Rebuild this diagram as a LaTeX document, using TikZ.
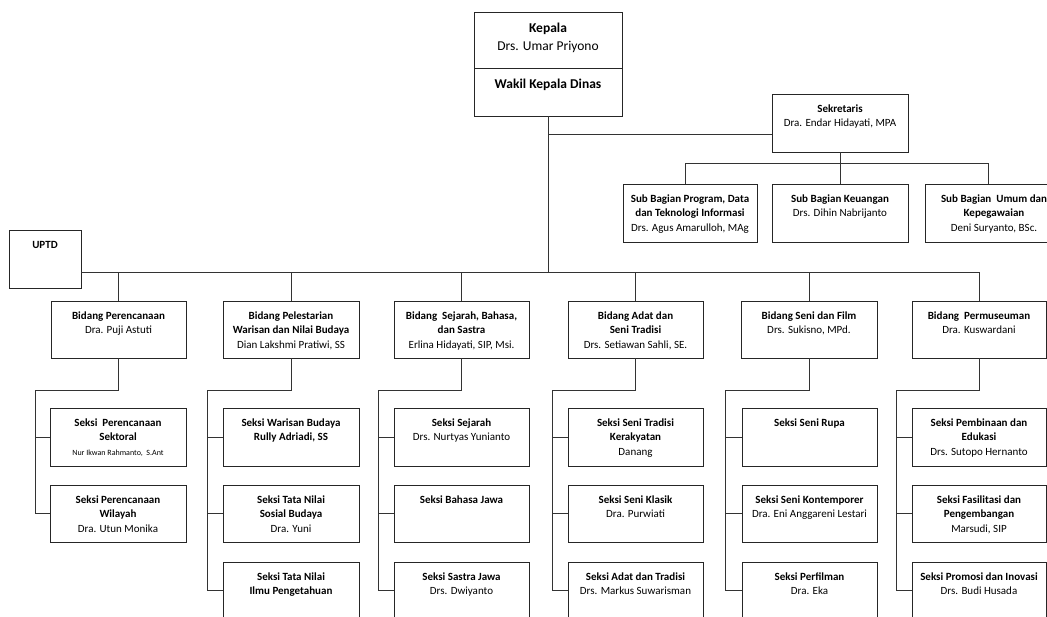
\documentclass[tikz,border=0pt]{standalone}
\usepackage{fontspec}
\setmainfont{Carlito}
\newcommand\bxt[3]{\parbox[c][#2pt][t]{#1pt}{\centering\fontsize{11}{14.5}\selectfont\rule{0pt}{18pt}#3\par}}
\newcommand\bigbxt[3]{\parbox[c][#2pt][t]{#1pt}{\centering\fontsize{13.5}{18}\selectfont\rule{0pt}{20pt}#3\par}}
\tikzset{
  box/.style={draw=black!85, line width=0.9pt, inner sep=0pt, outer sep=0pt, anchor=north west, fill=white},
  conn/.style={draw=black!80, line width=0.9pt}
}
\begin{document}
\begin{tikzpicture}[x=1pt,y=-1pt]
\useasboundingbox (0,0) rectangle (1047,616);
\clip (0,0) rectangle (1047,616);
% top
\node[box] (kepala) at (474,12) {\bigbxt{148}{56}{\textbf{Kepala}\\Drs. Umar Priyono}};
\node[box] (wakil) at (474,68) {\bigbxt{148}{48}{\textbf{Wakil Kepala Dinas}}};
\node[box] (sek) at (772,94) {\bxt{136}{58}{\textbf{Sekretaris}\\Dra. Endar Hidayati, MPA}};
\node[box] (sub1) at (623,184) {\bxt{134}{58}{\textbf{Sub Bagian Program, Data}\\\textbf{dan Teknologi Informasi}\\Drs. Agus Amarulloh, MAg}};
\node[box] (sub2) at (772,184) {\bxt{136}{58}{\textbf{Sub Bagian Keuangan}\\Drs. Dihin Nabrijanto}};
\node[box] (sub3) at (925,184) {\bxt{138}{58}{\textbf{Sub Bagian\ \ Umum dan}\\\textbf{Kepegawaian}\\Deni Suryanto, BSc.}};
\node[box] (uptd) at (9,230) {\bxt{72}{58}{\textbf{UPTD}}};
% bidang
\node[box] (b1) at (51,301) {\bxt{135}{57}{\textbf{Bidang Perencanaan}\\Dra. Puji Astuti}};
\node[box] (b2) at (223,301) {\bxt{136}{57}{\textbf{Bidang Pelestarian}\\\textbf{Warisan dan Nilai Budaya}\\Dian Lakshmi Pratiwi, SS}};
\node[box] (b3) at (394,301) {\bxt{135}{57}{\textbf{Bidang\ \ Sejarah, Bahasa,}\\\textbf{dan Sastra}\\Erlina Hidayati, SIP, Msi.}};
\node[box] (b4) at (568,301) {\bxt{135}{57}{\textbf{Bidang Adat dan}\\\textbf{Seni Tradisi}\\Drs. Setiawan Sahli, SE.}};
\node[box] (b5) at (741,301) {\bxt{136}{57}{\textbf{Bidang Seni dan Film}\\Drs. Sukisno, MPd.}};
\node[box] (b6) at (912,301) {\bxt{134}{57}{\textbf{Bidang\ \ Permuseuman}\\Dra. Kuswardani}};
% seksi col 1
\node[box] (s11) at (50,408) {\bxt{136}{58}{\textbf{Seksi\ \ Perencanaan}\\\textbf{Sektoral}\\{\fontsize{8}{10}\selectfont Nur Ikwan Rahmanto,\ \ S.Ant}}};
\node[box] (s12) at (50,485) {\bxt{136}{57}{\textbf{Seksi Perencanaan}\\\textbf{Wilayah}\\Dra. Utun Monika}};
% col 2
\node[box] (s21) at (223,408) {\bxt{136}{58}{\textbf{Seksi Warisan Budaya}\\\textbf{Rully Adriadi, SS}}};
\node[box] (s22) at (223,485) {\bxt{136}{57}{\textbf{Seksi Tata Nilai}\\\textbf{Sosial Budaya}\\Dra. Yuni}};
\node[box] (s23) at (223,562) {\bxt{136}{57}{\textbf{Seksi Tata Nilai}\\\textbf{Ilmu Pengetahuan}}};
% col 3
\node[box] (s31) at (394,408) {\bxt{135}{58}{\textbf{Seksi Sejarah}\\Drs. Nurtyas Yunianto}};
\node[box] (s32) at (394,485) {\bxt{135}{57}{\textbf{Seksi Bahasa Jawa}}};
\node[box] (s33) at (394,562) {\bxt{135}{57}{\textbf{Seksi Sastra Jawa}\\Drs. Dwiyanto}};
% col 4
\node[box] (s41) at (568,408) {\bxt{135}{58}{\textbf{Seksi Seni Tradisi}\\\textbf{Kerakyatan}\\Danang}};
\node[box] (s42) at (568,485) {\bxt{135}{57}{\textbf{Seksi Seni Klasik}\\Dra. Purwiati}};
\node[box] (s43) at (568,562) {\bxt{135}{57}{\textbf{Seksi Adat dan Tradisi}\\Drs. Markus Suwarisman}};
% col 5
\node[box] (s51) at (742,408) {\bxt{135}{58}{\textbf{Seksi Seni Rupa}}};
\node[box] (s52) at (742,485) {\bxt{135}{57}{\textbf{Seksi Seni Kontemporer}\\Dra. Eni Anggareni Lestari}};
\node[box] (s53) at (742,562) {\bxt{135}{57}{\textbf{Seksi Perfilman}\\Dra. Eka}};
% col 6
\node[box] (s61) at (912,408) {\bxt{134}{58}{\textbf{Seksi Pembinaan dan}\\\textbf{Edukasi}\\Drs. Sutopo Hernanto}};
\node[box] (s62) at (912,485) {\bxt{134}{57}{\textbf{Seksi Fasilitasi dan}\\\textbf{Pengembangan}\\Marsudi, SIP}};
\node[box] (s63) at (912,562) {\bxt{134}{57}{\textbf{Seksi Promosi dan Inovasi}\\Drs. Budi Husada}};
% connectors
\coordinate (bus) at (547,272);
\coordinate (sekin) at (772,134);
\coordinate (subbus) at (842,163);
\draw[conn] (wakil.south) -- (wakil.south |- bus);
\draw[conn] (wakil.south |- sekin) -- (sekin);
\draw[conn] (sek.south) -- (sek.south |- subbus);
\draw[conn] ([xshift=-5pt]sub1.north |- subbus) -- ([xshift=63pt]sub3.north west |- subbus);
\draw[conn] ([xshift=-5pt]sub1.north |- subbus) -- ([xshift=-5pt]sub1.north);
\draw[conn] (sub2.north |- subbus) -- (sub2.north);
\draw[conn] ([xshift=63pt]sub3.north west |- subbus) -- ([xshift=63pt]sub3.north west);
\draw[conn] (uptd.east |- bus) -- (b6.north |- bus);
\foreach \b in {b1,b2,b3,b4,b5,b6}{
  \draw[conn] (\b.north |- bus) -- (\b.north);
}
% bidang -> seksi trees
\foreach \b/\l in {b1/s12, b2/s23, b3/s33, b4/s43, b5/s53, b6/s63}{
  \coordinate (\b col) at ([xshift=-16pt]\b.south west);
  \draw[conn] (\b.south) -- ++(0,32) -| (\b col |- \l.west) -- (\l.west);
}
\foreach \b/\s in {b1/s11, b2/s21, b2/s22, b3/s31, b3/s32, b4/s41, b4/s42, b5/s51, b5/s52, b6/s61, b6/s62}{
  \draw[conn] ([xshift=-16pt]\b.south west |- \s.west) -- (\s.west);
}
\end{tikzpicture}
\end{document}
